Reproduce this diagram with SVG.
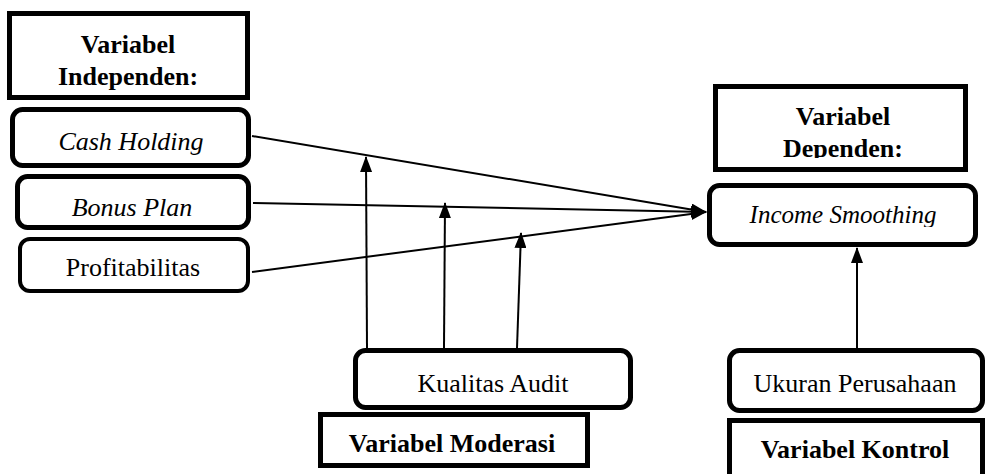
<svg xmlns="http://www.w3.org/2000/svg" width="987" height="474" viewBox="0 0 987 474">
<style>
.box{fill:#fff;stroke:#000;stroke-width:5}
.rbox{fill:#fff;stroke:#000;stroke-width:5}
.t{font-family:"Liberation Serif","Times New Roman",serif;font-size:26px;fill:#000;text-anchor:middle}
.i{font-style:italic}
.b{font-weight:bold}
.c{stroke:#000;stroke-width:2;fill:none}
</style>
<defs>
<marker id="ah" markerWidth="16" markerHeight="12" refX="15" refY="6" orient="auto" markerUnits="userSpaceOnUse">
<path d="M0,0 L16,6 L0,12 Z" fill="#000"/>
</marker>
<clipPath id="cpDep"><rect x="718" y="89" width="245" height="69"/></clipPath>
<clipPath id="cpInc"><rect x="712" y="188" width="261" height="39"/></clipPath>
</defs>
<g id="independen">
<rect class="box" x="9.5" y="13.5" width="238" height="84"/>
<text class="t b" x="128" y="53">Variabel</text>
<text class="t b" x="128" y="85">Independen:</text>
</g>
<g id="cash-holding">
<rect class="rbox" x="12.5" y="109.5" width="236" height="56" rx="10"/>
<text class="t i" x="131" y="150">Cash Holding</text>
</g>
<g id="bonus-plan">
<rect class="rbox" x="17.5" y="176.5" width="231" height="51" rx="10"/>
<text class="t i" x="132" y="216">Bonus Plan</text>
</g>
<g id="profitabilitas">
<rect class="rbox" x="20" y="239" width="228" height="52" rx="10" style="stroke-width:4"/>
<text class="t" x="133" y="276">Profitabilitas</text>
</g>
<g id="dependen">
<rect class="box" x="715.5" y="86.5" width="250" height="83"/>
<g clip-path="url(#cpDep)">
<text class="t b" x="843" y="125">Variabel</text>
<text class="t b" x="843" y="157">Dependen:</text>
</g>
</g>
<g id="income-smoothing">
<rect class="rbox" x="709.5" y="185.5" width="266" height="59" rx="10"/>
<g clip-path="url(#cpInc)">
<text class="t i" x="843" y="223" style="font-size:25px">Income Smoothing</text>
</g>
</g>
<g id="kualitas-audit">
<rect class="rbox" x="355.5" y="350.5" width="275" height="57" rx="10"/>
<text class="t" x="493" y="392">Kualitas Audit</text>
</g>
<g id="moderasi">
<rect class="box" x="320.5" y="414.5" width="267" height="51"/>
<text class="t b" x="452" y="452">Variabel Moderasi</text>
</g>
<g id="ukuran-perusahaan">
<rect class="rbox" x="729.5" y="350.5" width="253" height="60" rx="10"/>
<text class="t" x="855" y="392">Ukuran Perusahaan</text>
</g>
<g id="kontrol">
<rect class="box" x="729.5" y="420.5" width="253" height="58"/>
<text class="t b" x="855" y="458">Variabel Kontrol</text>
</g>
<g id="connectors">
<line class="c" x1="252" y1="136" x2="706" y2="212" marker-end="url(#ah)"/>
<line class="c" x1="253" y1="203" x2="706" y2="212" marker-end="url(#ah)"/>
<line class="c" x1="252" y1="272" x2="706" y2="212" marker-end="url(#ah)"/>
<line class="c" x1="367" y1="348" x2="366" y2="157" marker-end="url(#ah)"/>
<line class="c" x1="444" y1="348" x2="445" y2="203" marker-end="url(#ah)"/>
<line class="c" x1="517" y1="348" x2="521" y2="233" marker-end="url(#ah)"/>
<line class="c" x1="857" y1="348" x2="857" y2="248" marker-end="url(#ah)"/>
</g>
</svg>
